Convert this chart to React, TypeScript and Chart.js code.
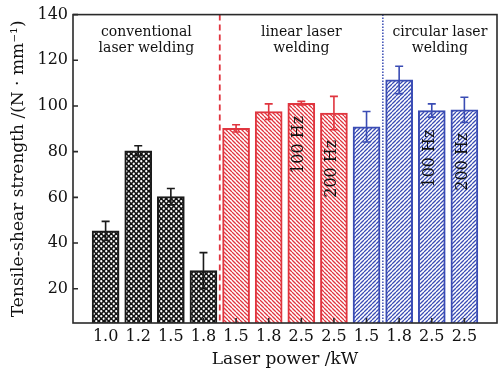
import React, { useEffect, useRef } from "react";
import { Chart, registerables } from "chart.js";

Chart.register(...registerables);

const categories = ["1.0", "1.2", "1.5", "1.8", "1.5", "1.8", "2.5", "2.5", "1.5", "1.8", "2.5", "2.5"];
const conventionalValues = [45.3, 80.4, 60.3, 27.9];
const conventionalErrors = [4.2, 2.2, 3.6, 7.9];
const linearValues = [90.2, 97.5, 101.2, 96.9];
const linearErrors = [1.6, 3.4, 0.8, 7.3];
const circularValues = [90.9, 111.4, 98.0, 98.3];
const circularErrors = [6.7, 6.0, 2.9, 5.5];
const yTickValues = [20, 40, 60, 80, 100, 120, 140];
const groupLabels = [
  ["conventional", "laser welding"],
  ["linear laser", "welding"],
  ["circular laser", "welding"],
];
// frequency labels: bar index, text, vertical centre (data value)
const freqLabels = [
  { index: 6, text: "100 Hz", y: 83 },
  { index: 7, text: "200 Hz", y: 72.5 },
  { index: 10, text: "100 Hz", y: 77 },
  { index: 11, text: "200 Hz", y: 75.6 },
];

const BLACK = "#1a1a1a";
const RED = "#e0353f";
const BLUE = "#3a4cb4";
const FONT = "'DejaVu Serif', serif";

function makeDots(): CanvasPattern | string {
  const c = document.createElement("canvas");
  c.width = 5;
  c.height = 5;
  const ctx = c.getContext("2d");
  if (!ctx) return BLACK;
  ctx.fillStyle = "#111";
  ctx.fillRect(0, 0, 5, 5);
  ctx.fillStyle = "#fff";
  ctx.beginPath();
  ctx.arc(1.25, 1.25, 1.15, 0, Math.PI * 2);
  ctx.arc(3.75, 3.75, 1.15, 0, Math.PI * 2);
  ctx.fill();
  return ctx.createPattern(c, "repeat") || BLACK;
}

function makeStripes(color: string, back: boolean): CanvasPattern | string {
  const s = 4;
  const c = document.createElement("canvas");
  c.width = s;
  c.height = s;
  const ctx = c.getContext("2d");
  if (!ctx) return color;
  ctx.fillStyle = "#fff";
  ctx.fillRect(0, 0, s, s);
  ctx.strokeStyle = color;
  ctx.lineWidth = 1.3;
  ctx.beginPath();
  for (const x0 of [-s, 0, s]) {
    if (back) {
      ctx.moveTo(x0, 0);
      ctx.lineTo(x0 + s, s);
    } else {
      ctx.moveTo(x0, s);
      ctx.lineTo(x0 + s, 0);
    }
  }
  ctx.stroke();
  return ctx.createPattern(c, "repeat") || color;
}

const errors = [conventionalErrors, linearErrors, circularErrors];
const colors = [BLACK, RED, BLUE];

const overlayPlugin = {
  id: "overlay",
  beforeDatasetsDraw(chart: any) {
    const { ctx, chartArea } = chart;
    const x = chart.scales.x;
    ctx.save();
    ctx.lineWidth = 1.8;
    ctx.strokeStyle = RED;
    ctx.setLineDash([6, 4]);
    ctx.beginPath();
    ctx.moveTo(x.getPixelForValue(3.5), chartArea.top);
    ctx.lineTo(x.getPixelForValue(3.5), chartArea.bottom);
    ctx.stroke();
    ctx.lineWidth = 1.5;
    ctx.strokeStyle = BLUE;
    ctx.setLineDash([1.5, 1.5]);
    ctx.beginPath();
    ctx.moveTo(x.getPixelForValue(8.5), chartArea.top);
    ctx.lineTo(x.getPixelForValue(8.5), chartArea.bottom);
    ctx.stroke();
    ctx.restore();
  },
  afterDatasetsDraw(chart: any) {
    const { ctx, chartArea } = chart;
    const x = chart.scales.x;
    const y = chart.scales.y;
    ctx.save();
    // error bars
    chart.data.datasets.forEach((ds: any, di: number) => {
      const meta = chart.getDatasetMeta(di);
      ctx.strokeStyle = colors[di];
      ctx.lineWidth = 1.6;
      meta.data.forEach((el: any, i: number) => {
        const v = ds.data[i].y;
        const e = errors[di][i];
        const px = el.x;
        const top = y.getPixelForValue(v + e);
        const bot = y.getPixelForValue(v - e);
        ctx.beginPath();
        ctx.moveTo(px, top);
        ctx.lineTo(px, bot);
        ctx.moveTo(px - 4, top);
        ctx.lineTo(px + 4, top);
        ctx.moveTo(px - 4, bot);
        ctx.lineTo(px + 4, bot);
        ctx.stroke();
      });
    });
    // frame
    ctx.strokeStyle = "#2a2a2a";
    ctx.lineWidth = 1.6;
    ctx.strokeRect(chartArea.left, chartArea.top, chartArea.right - chartArea.left, chartArea.bottom - chartArea.top);
    // inward ticks
    ctx.beginPath();
    yTickValues.forEach((v) => {
      const py = y.getPixelForValue(v);
      ctx.moveTo(chartArea.left, py);
      ctx.lineTo(chartArea.left + 5, py);
    });
    categories.forEach((_, i) => {
      const px = x.getPixelForValue(i);
      ctx.moveTo(px, chartArea.bottom);
      ctx.lineTo(px, chartArea.bottom - 5);
    });
    ctx.stroke();
    // group labels
    const bounds = [chartArea.left, x.getPixelForValue(3.5), x.getPixelForValue(8.5), chartArea.right];
    ctx.fillStyle = "#111";
    ctx.font = `14px ${FONT}`;
    ctx.textAlign = "center";
    ctx.textBaseline = "middle";
    groupLabels.forEach((lines, g) => {
      const cx = (bounds[g] + bounds[g + 1]) / 2;
      lines.forEach((t, li) => {
        ctx.fillText(t, cx, chartArea.top + 18 + li * 16);
      });
    });
    // rotated frequency labels
    ctx.font = `16px ${FONT}`;
    freqLabels.forEach((f) => {
      const px = x.getPixelForValue(f.index) - 2;
      const py = y.getPixelForValue(f.y);
      ctx.save();
      ctx.translate(px, py);
      ctx.rotate(-Math.PI / 2);
      ctx.fillText(f.text, 0, 0);
      ctx.restore();
    });
    ctx.restore();
  },
};

export default function App() {
  const ref = useRef<HTMLCanvasElement | null>(null);
  useEffect(() => {
    if (!ref.current) return;
    Chart.defaults.font.family = FONT;
    Chart.defaults.color = "#111";
    const mk = (vals: number[], start: number) => vals.map((v, i) => ({ x: start + i, y: v }));
    const chart = new Chart(ref.current, {
      type: "bar",
      data: {
        datasets: [
          { label: "conventional", data: mk(conventionalValues, 0), backgroundColor: makeDots(), borderColor: BLACK, borderWidth: 2, grouped: false, barThickness: 27 } as any,
          { label: "linear", data: mk(linearValues, 4), backgroundColor: makeStripes(RED, true), borderColor: RED, borderWidth: 2, grouped: false, barThickness: 27 } as any,
          { label: "circular", data: mk(circularValues, 8), backgroundColor: makeStripes(BLUE, false), borderColor: BLUE, borderWidth: 2, grouped: false, barThickness: 27 } as any,
        ],
      },
      options: {
        responsive: false,
        animation: false,
        layout: { padding: { top: 14, right: 7, left: 0, bottom: 0 } },
        plugins: { legend: { display: false }, tooltip: { enabled: false } },
        scales: {
          x: {
            type: "linear",
            offset: false,
            min: -1,
            max: 12,
            grid: { display: false, drawTicks: false, offset: false },
            border: { display: false },
            afterBuildTicks: (s: any) => {
              s.ticks = categories.map((_, i) => ({ value: i }));
            },
            afterFit: (s: any) => {
              s.height = 48;
            },
            ticks: {
              autoSkip: false,
              maxRotation: 0,
              padding: 4,
              font: { size: 16 },
              color: "#111",
              callback: (v: any) => categories[Number(v)] ?? "",
            },
            title: { display: true, text: "Laser power /kW", font: { size: 17 }, padding: { top: 0, bottom: 1 }, color: "#111" },
          },
          y: {
            min: 5,
            max: 140,
            grid: { display: false, drawTicks: false },
            border: { display: false },
            afterBuildTicks: (s: any) => {
              s.ticks = yTickValues.map((v) => ({ value: v }));
            },
            afterFit: (s: any) => {
              s.width = 73;
            },
            ticks: { padding: 5, font: { size: 16 }, color: "#111" },
            title: { display: true, text: "Tensile-shear strength /(N · mm⁻¹)", font: { size: 17 }, padding: { top: 8, bottom: 0 }, color: "#111" },
          },
        },
      },
      plugins: [overlayPlugin],
    });
    return () => chart.destroy();
  }, []);
  return (
    <div style={{ position: "fixed", left: 0, top: 0, width: 504, height: 371, background: "#fff" }}>
      <canvas ref={ref} width={504} height={371} style={{ display: "block" }} />
    </div>
  );
}
